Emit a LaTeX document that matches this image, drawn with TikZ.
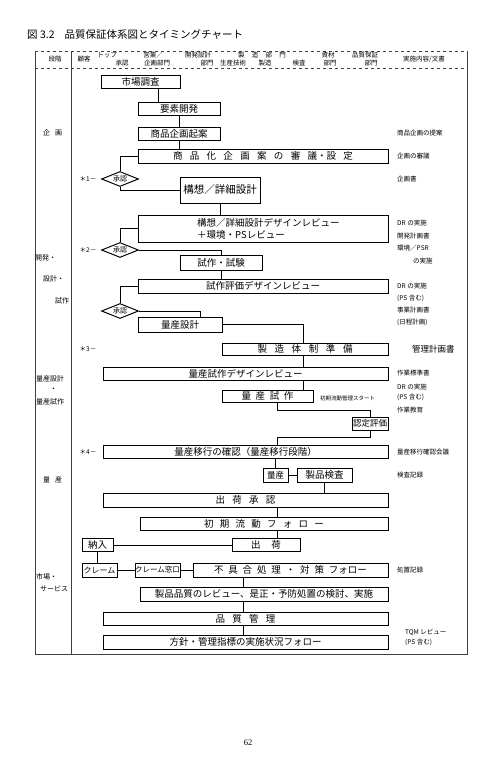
\documentclass[tikz,border=0pt]{standalone}
\usepackage{fontspec}
\setmainfont{Noto Sans CJK JP}
\newfontfamily\serifnum{Liberation Serif}
\usetikzlibrary{shapes.geometric}
\newcommand{\spr}[2]{\makebox[#1pt][s]{#2}}
\begin{document}
\begin{tikzpicture}[x=1pt,y=-1pt,
  bx/.style={draw, line width=1pt, inner sep=0pt, font=\fontsize{9.5}{10}\selectfont},
  ln/.style={line width=0.7pt},
  frame/.style={line width=0.6pt, black!75},
  hd/.style={font=\fontsize{6.5}{7}\selectfont, inner sep=0pt},
  nt/.style={font=\fontsize{6.5}{8}\selectfont, anchor=west, inner sep=0pt},
  stg/.style={font=\fontsize{7}{8}\selectfont, inner sep=0pt, anchor=west},
  mk/.style={font=\fontsize{6.5}{7}\selectfont, inner sep=0pt},
  ok/.style={diamond, draw, line width=1pt, aspect=2.6, inner sep=0pt, minimum width=37pt, minimum height=15pt, font=\fontsize{7}{7}\selectfont}]
\useasboundingbox (0,0) rectangle (500,763);
\fill[white] (0,0) rectangle (500,763);

% title
\node[anchor=west, inner sep=0pt, font=\fontsize{10.5}{11}\selectfont] (title) at (27,35) {図 3.2\hspace{10pt}品質保証体系図とタイミングチャート};

% frame
\coordinate (tl) at (35,51);
\coordinate (tr) at (467,51);
\coordinate (hl) at (35,68);
\coordinate (hr) at (467,68);
\coordinate (bl) at (35,654);
\coordinate (br) at (467,654);
\coordinate (ct) at (71,51);
\coordinate (cb) at (71,654);
\draw[frame, dashed] (tl) -- (tr);
\draw[frame, dashed] (hl) -- (hr);
\draw[frame] (tl) -- (bl) -- (br) -- (tr);
\draw[frame, densely dashed] (tl) -- (hl);
\draw[frame, densely dashed] (tr) -- (hr);
\draw[frame] (ct) -- (cb);

% header
\node[hd] (h0) at (55,59.5) {段階};
\node[hd] (h1) at (84,59.5) {顧客};
\node[hd] (h2a) at (107,55.5) {トップ};
\node[hd] (h2b) at (122,63) {承認};
\node[hd] (h3a) at (153,55.5) {営業／};
\node[hd] (h3b) at (157,63) {企画部門};
\node[hd] (h4a) at (198,55.5) {開発設計};
\node[hd] (h4b) at (207,63) {部門};
\node[hd] (h5a) at (262,55.5) {\spr{48}{製 造 部 門}};
\node[hd] (h5b) at (233,63) {生産技術};
\node[hd] (h5c) at (265,63) {製造};
\node[hd] (h5d) at (299,63) {検査};
\node[hd] (h6a) at (328,55.5) {資材};
\node[hd] (h6b) at (330,63) {部門};
\node[hd] (h7a) at (365,55.5) {品質保証};
\node[hd] (h7b) at (371,63) {部門};
\node[hd] (h8) at (424,59.5) {実施内容/文書};

% stage labels
\node[stg] (s1) at (43,133) {企\hspace{5pt}画};
\node[stg] (s2a) at (35,258) {開発・};
\node[stg] (s2b) at (43,279) {設計・};
\node[stg] (s2c) at (55,301) {試作};
\node[stg] (s3a) at (36,379) {量産設計};
\node[stg] (s3b) at (50,390) {・};
\node[stg] (s3c) at (36,402) {量産試作};
\node[stg] (s4) at (43,480) {量\hspace{5pt}産};
\node[stg] (s5a) at (36,577) {市場・};
\node[stg] (s5b) at (40,589) {サービス};

% markers
\node[mk] (m1) at (88,179) {＊1－};
\node[mk] (m2) at (88,250) {＊2－};
\node[mk] (m3) at (88,349) {＊3－};
\node[mk] (m4) at (88,452) {＊4－};

% boxes
\node[bx, minimum width=79pt, minimum height=13pt] (ichiba) at (140.5,82) {市場調査};
\node[bx, minimum width=82pt, minimum height=13pt] (yoso) at (179,108.5) {要素開発};
\node[bx, minimum width=82pt, minimum height=13pt] (kikaku) at (179,133.5) {商品企画起案};
\node[bx, minimum width=250pt, minimum height=14pt] (shingi) at (263,156) {\spr{180}{商 品 化 企 画 案 の 審 議・設 定}};
\node[bx, minimum width=80pt, minimum height=26pt, font=\fontsize{10.5}{11}\selectfont] (kouso) at (220,190) {構想／詳細設計};
\node[bx, minimum width=250pt, minimum height=27pt] (dr1) at (263,228.5) {};
\node[anchor=west, align=left, inner sep=0pt, font=\fontsize{9.5}{12.5}\selectfont] (dr1t) at (197,229) {構想／詳細設計デザインレビュー\\＋環境・PSレビュー};
\node[bx, minimum width=82pt, minimum height=15pt] (shisaku) at (221,262.5) {試作・試験};
\node[bx, minimum width=250pt, minimum height=14pt] (dr2) at (263,286) {試作評価デザインレビュー};
\node[bx, minimum width=84pt, minimum height=15pt] (ryosekkei) at (180,324.5) {量産設計};
\node[bx, minimum width=166pt, minimum height=12pt] (seizo) at (305,349) {\spr{95}{製 造 体 制 準 備}};
\node[bx, minimum width=285pt, minimum height=13pt] (dr3) at (245.5,373.5) {量産試作デザインレビュー};
\node[bx, minimum width=91pt, minimum height=12pt] (ryoshi) at (267.5,396) {\spr{52}{量 産 試 作}};
\node[bx, minimum width=36pt, minimum height=13pt, font=\fontsize{8.5}{9}\selectfont] (nintei) at (370,423.5) {認定評価};
\node[bx, minimum width=285pt, minimum height=13pt] (iko) at (245.5,451.5) {量産移行の確認（量産移行段階）};
\node[bx, minimum width=25pt, minimum height=14pt, font=\fontsize{8.5}{9}\selectfont] (ryosan) at (275.5,475) {量産};
\node[bx, minimum width=55pt, minimum height=14pt] (kensa) at (324.5,475) {製品検査};
\node[bx, minimum width=285pt, minimum height=14pt] (shonin) at (245.5,500) {\spr{60}{出 荷 承 認}};
\node[bx, minimum width=248pt, minimum height=13pt] (shoki) at (264,523.5) {\spr{120}{初 期 流 動 フ ォ ロ ー}};
\node[bx, minimum width=68pt, minimum height=13pt] (shukka) at (266,545) {\spr{30}{出 荷}};
\node[bx, minimum width=31pt, minimum height=13pt] (nonyu) at (97.5,545) {納入};
\node[bx, minimum width=35pt, minimum height=14pt, font=\fontsize{8}{9}\selectfont] (claim) at (99.5,570) {クレーム};
\node[bx, minimum width=45pt, minimum height=14pt, font=\fontsize{7.5}{8}\selectfont] (mado) at (157.5,570) {クレーム窓口};
\node[bx, minimum width=195pt, minimum height=14pt] (fuguai) at (290.5,570) {\spr{153}{不 具 合 処 理 ・ 対 策 フォロー}};
\node[bx, minimum width=248pt, minimum height=14pt] (review) at (264,594) {製品品質のレビュー、是正・予防処置の検討、実施};
\node[bx, minimum width=285pt, minimum height=13pt] (hinkan) at (245.5,618.5) {\spr{60}{品 質 管 理}};
\node[bx, minimum width=285pt, minimum height=14pt] (hoshin) at (245.5,642) {方針・管理指標の実施状況フォロー};

% diamonds
\node[ok] (d1) at (120,179) {承認};
\node[ok] (d2) at (120,250) {承認};
\node[ok] (d3) at (120,311) {承認};

% notes
\node[nt] (n1) at (397,133) {商品企画の提案};
\node[nt] (n2) at (397,156) {企画の審議};
\node[nt] (n3) at (397,179) {企画書};
\node[nt] (n4) at (397,223) {DR の実施};
\node[nt] (n5) at (397,236) {開発計画書};
\node[nt] (n6) at (397,248) {環境／PSR};
\node[nt] (n7) at (413,261) {の実施};
\node[nt] (n8) at (397,286) {DR の実施};
\node[nt] (n9) at (397,298) {(PS 含む)};
\node[nt] (n10) at (397,310) {事業計画書};
\node[nt] (n11) at (397,322) {(日程計画)};
\node[nt, font=\fontsize{8.5}{9}\selectfont] (n12) at (412,349) {管理計画書};
\node[nt] (n13) at (397,373) {作業標準書};
\node[nt] (n14) at (397,387) {DR の実施};
\node[nt] (n15) at (397,397) {(PS 含む)};
\node[nt] (n16) at (397,410) {作業教育};
\node[nt, font=\fontsize{5.5}{6}\selectfont] (n17) at (320,398) {初期流動管理スタート};
\node[nt] (n18) at (397,452) {量産移行確認会議};
\node[nt] (n19) at (397,475) {検査記録};
\node[nt] (n20) at (397,570) {処置記録};
\node[nt] (n21) at (405,632) {TQM レビュー};
\node[nt] (n22) at (405,642) {(PS 含む)};

% page number
\node[inner sep=0pt, font=\serifnum\fontsize{8.5}{9}\selectfont] (page) at (248,743) {62};

% helper x positions
\coordinate (x158) at (158,0);
\coordinate (x200) at (200,0);
\coordinate (x243) at (243,0);
\coordinate (x277) at (277,0);
\coordinate (x303) at (303,0);

% connectors
\draw[ln] (ichiba.south -| x158) -- (yoso.north -| x158);
\draw[ln] (yoso.south) -- (kikaku.north);
\draw[ln] (kikaku.south) -- (kikaku.south |- shingi.north);
\draw[ln] (shingi.west) -| (d1.north);
\draw[ln] (d1.south) |- (kouso.west);
\draw[ln] (kouso.south) -- (kouso.south |- dr1.north);
\draw[ln] (dr1.west) -| (d2.north);
\draw[ln] (d2.east) -| (shisaku.north);
\draw[ln] (shisaku.south) -- (shisaku.south |- dr2.north);
\draw[ln] (dr2.west) -| (d3.north);
\draw[ln] (d3.east) -| (ryosekkei.north -| x200);
\draw[ln] (ryosekkei.east) -| (seizo.north -| x303);
\draw[ln] (seizo.south -| x303) -- (dr3.north -| x303);
\draw[ln] (dr3.south -| x303) -- (ryoshi.north -| x303);
\draw[ln] (ryoshi.south -| x277) -- ++(0,8) -| (nintei.north);
\draw[ln] (nintei.south) -- ++(0,7) -| (iko.north -| x277);
\draw[ln] (iko.south -| ryosan.north) -- (ryosan.north);
\draw[ln] (ryosan.east) -- (kensa.west);
\draw[ln] (kensa.south) -- (kensa.south |- shonin.north);
\draw[ln] (shonin.south -| x277) -- (shoki.north -| x277);
\draw[ln] (shoki.south -| x277) -- (shukka.north -| x277);
\draw[ln] (nonyu.east) -- (shukka.west);
\draw[ln] (nonyu.south) -- (nonyu.south |- claim.north);
\draw[ln] (claim.east) -- (mado.west);
\draw[ln] (mado.east) -- (fuguai.west);
\draw[ln] (fuguai.south -| x243) -- (review.north -| x243);
\draw[ln] (review.south -| x243) -- (hinkan.north -| x243);
\draw[ln] (hinkan.south -| x243) -- (hoshin.north -| x243);
\end{tikzpicture}
\end{document}
